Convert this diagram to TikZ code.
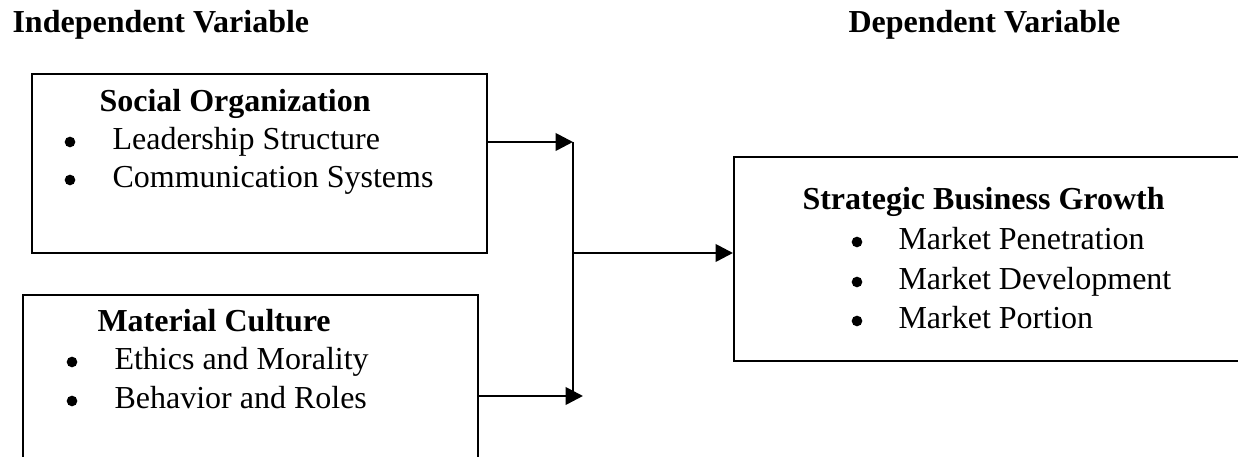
\documentclass[tikz,border=0pt]{standalone}
\usepackage{fontspec}
\setmainfont{Liberation Serif}
\usetikzlibrary{arrows.meta, positioning}

\begin{document}
\begin{tikzpicture}[x=0.375pt, y=-0.375pt, font=\fontsize{12}{15}\selectfont]
		\tikzstyle{box} = [rectangle, draw=black, line width=0.6pt, anchor=north west, inner sep=0pt]
		\tikzstyle{head} = [anchor=base west, inner sep=0pt, font=\fontsize{12}{15}\selectfont\bfseries]
		\tikzstyle{item} = [anchor=base west, inner sep=0pt]
		\tikzstyle{dot} = [circle, fill=black, inner sep=0pt, minimum size=4pt]
		\tikzstyle{arrow} = [-{Triangle[length=6.5pt, width=6.5pt]}, line width=1pt]
		\tikzstyle{joint} = [line width=0.6pt]
		%-------------------------------------------------------
		% page frame
		\useasboundingbox (0,0) rectangle (1238,457);
		\clip (0,0) rectangle (1238,457);
		%-------------------------------------------------------
		% headings
		\node (iv) [head] at (12,33) {Independent Variable};
		\node (dv) [head] at (848,33) {Dependent Variable};
		
		% boxes
		\node (n1) [box, minimum width=455*0.375pt, minimum height=179*0.375pt] at (31,73) {};
		\node (n2) [box, minimum width=455*0.375pt, minimum height=200*0.375pt] at (22,294) {};
		\node (n3) [box, minimum width=540*0.375pt, minimum height=204*0.375pt] at (733,156) {};
		
		% social organization
		\node (t1) [head] at (99,112) {Social Organization};
		\node (d11) [dot] at (70,142) {};
		\node (i11) [item] at (112,150) {Leadership Structure};
		\node (d12) [dot] at (70,180) {};
		\node (i12) [item] at (112,188) {Communication Systems};
		
		% material culture
		\node (t2) [head] at (97,332) {Material Culture};
		\node (d21) [dot] at (72,362) {};
		\node (i21) [item] at (114,370) {Ethics and Morality};
		\node (d22) [dot] at (72,401) {};
		\node (i22) [item] at (114,409) {Behavior and Roles};
		
		% strategic business growth
		\node (t3) [head] at (802,210) {Strategic Business Growth};
		\node (d31) [dot] at (857,242) {};
		\node (i31) [item] at (898,250) {Market Penetration};
		\node (d32) [dot] at (857,282) {};
		\node (i32) [item] at (898,290) {Market Development};
		\node (d33) [dot] at (857,321) {};
		\node (i33) [item] at (898,329) {Market Portion};
		
		% connectors
		\coordinate (jtop) at (573,142);
		\coordinate (jmid) at (573,253);
		\coordinate (jbot) at (573,396);
		\coordinate (jend) at (583,396);
		
		\draw [joint] (jtop) -- (jbot);
		\draw [arrow] (n1.east |- jtop) -- (jtop);
		\draw [arrow] (n2.east |- jbot) -- (jend);
		\draw [arrow] (jmid) -- (n3.west |- jmid);
\end{tikzpicture}
\end{document}
